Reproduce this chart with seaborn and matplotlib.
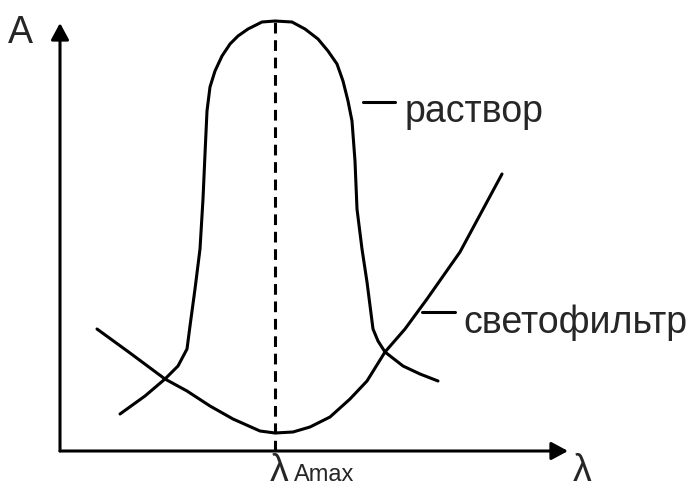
import matplotlib
matplotlib.use("Agg")
import matplotlib.pyplot as plt
import pandas as pd
import seaborn as sns

# Absorbance of the solution (bell-shaped band)
solution_wl = [12.0, 17.0, 21.0, 23.6, 25.4, 26.0, 27.0, 28.0, 28.6, 29.0, 29.4,
               30.0, 31.0, 32.4, 34.0, 35.6, 37.6, 40.4, 43.0, 46.4, 49.0,
               51.6, 53.6, 55.4, 56.6, 57.6, 58.4, 59.0, 59.4, 60.4, 61.4,
               62.6, 63.6, 65.0, 68.6, 72.0, 75.6]
solution_abs = [9.25, 13.75, 18.0, 21.25, 25.5, 31.25, 40.5, 50.5, 63.0, 74.25, 85.0,
                91.0, 95.0, 98.75, 101.75, 103.75, 105.5, 107.25, 107.5, 107.25, 105.5,
                103.0, 100.0, 96.75, 92.5, 87.5, 82.5, 72.5, 60.5, 50.5, 42.25,
                30.5, 27.5, 24.75, 21.25, 19.25, 17.5]

# Absorbance of the light filter
filter_wl = [7.4, 14.0, 21.0, 25.4, 30.0, 34.6, 40.0, 43.0, 46.6, 50.0, 54.0,
             58.0, 61.4, 65.0, 69.0, 73.4, 80.0, 88.4]
filter_abs = [30.5, 24.5, 18.0, 15.0, 11.25, 8.0, 5.0, 4.5, 4.75, 6.0, 8.5,
              13.0, 17.5, 24.75, 30.5, 38.0, 49.75, 69.25]

lambda_max = 43.0
peak_abs = 107.5

sns.set_style("white")
plt.rcParams["font.family"] = ["Liberation Sans", "DejaVu Sans"]

fig = plt.figure(figsize=(6.97, 4.89), dpi=100)
ax = fig.add_axes([0, 0, 1, 1])
ax.set_xlim(-12, 127.4)
ax.set_ylim(-9.25, 113)
ax.axis("off")

lw = 2.2
df_sol = pd.DataFrame({"wl": solution_wl, "A": solution_abs})
df_fil = pd.DataFrame({"wl": filter_wl, "A": filter_abs})
sns.lineplot(data=df_sol, x="wl", y="A", sort=False, estimator=None,
             color="black", lw=lw, ax=ax)
sns.lineplot(data=df_fil, x="wl", y="A", sort=False, estimator=None,
             color="black", lw=lw, ax=ax)

# Vertical dashed line at the absorption maximum
ax.plot([lambda_max, lambda_max], [0, peak_abs], color="black", lw=lw,
        linestyle=(0, (3.5, 2.2)))

# Coordinate axes with arrow heads
arrow = dict(arrowstyle="-|>,head_length=0.5,head_width=0.27", lw=lw,
             color="black", mutation_scale=20, shrinkA=0, shrinkB=0)
ax.annotate("", xy=(0, 107), xytext=(0, 0), arrowprops=arrow)
ax.annotate("", xy=(101.6, 0), xytext=(0, 0), arrowprops=arrow)

fs = 27
ax.text(-10.4, 102.25, "A", fontsize=fs, ha="left", va="baseline")
ax.text(102.6, -7.25, "λ", fontsize=fs, ha="left", va="baseline")
ax.text(42.0, -7.25, "λ", fontsize=fs, ha="left", va="baseline")
ax.text(46.8, -7.25, "Amax", fontsize=17, ha="left", va="baseline")

# Curve labels with leader dashes
ax.plot([60.6, 67.0], [87.25, 87.25], color="black", lw=lw)
ax.text(69.0, 82.5, "раствор", fontsize=fs, ha="left", va="baseline")
ax.plot([72.4, 79.0], [34.75, 34.75], color="black", lw=lw)
ax.text(80.6, 29.75, "светофильтр", fontsize=fs, ha="left", va="baseline")

fig.savefig("out.png", dpi=100)
